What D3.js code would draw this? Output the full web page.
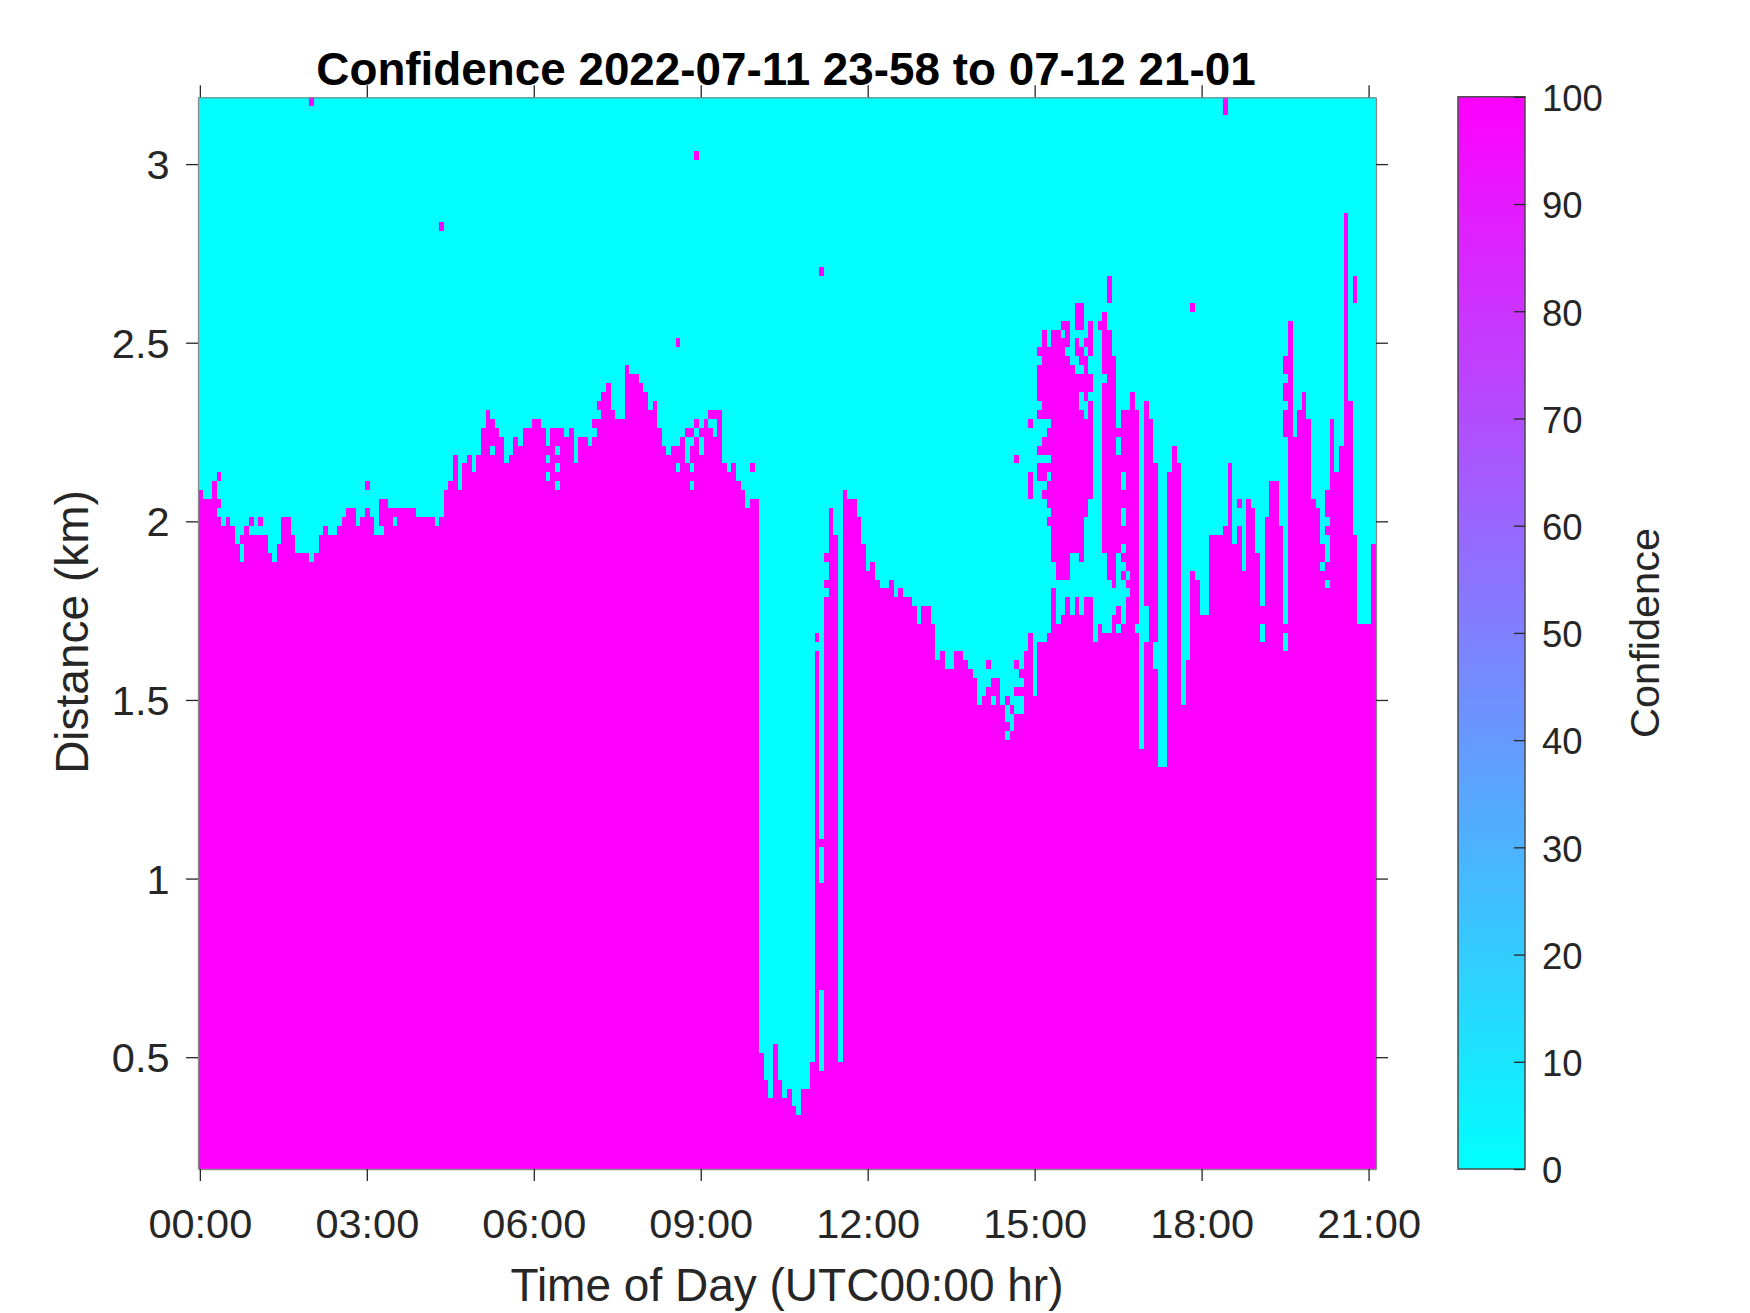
<!DOCTYPE html>
<html>
<head>
<meta charset="utf-8">
<script src="https://cdnjs.cloudflare.com/ajax/libs/d3/7.8.5/d3.min.js"></script>
<style>
    html, body { margin: 0; padding: 0; background: #fff; }
    svg { display: block; }
    text { font-family: "Liberation Sans", Arial, sans-serif; fill: #262626; }
    .axis path, .axis line { stroke: #262626; stroke-width: 1.3; }
</style>
</head>
<body>
<svg id="chart" width="1750" height="1313"></svg>
<script>
// retrieval grid: one column every 5 min from 23:58, one gate every 25 m from 0.187 km
var stepMin = 5, startMin = -2, gateKm = 0.025, firstKm = 0.187, nGates = 120;

// highest gate of the solid layer above ground, per time column
var layerTop = [
    76,75,75,77,73,72,73,72,70,68,
    72,71,71,71,71,69,68,70,73,73,
    71,69,69,69,68,69,71,72,71,71,
    72,73,74,74,72,73,74,73,71,75,
    75,74,74,74,74,74,74,73,73,73,
    73,72,73,76,77,80,76,79,80,78,
    80,83,85,84,83,82,79,80,82,81,
    83,83,84,84,83,81,83,83,83,82,
    83,79,82,82,81,82,84,87,88,85,
    84,84,90,89,89,88,87,85,86,83,
    81,80,81,81,82,79,81,82,83,84,
    83,82,85,79,78,79,77,76,74,75,
    75,13,10,8,14,10,8,9,7,6,
    9,9,12,58,11,64,74,71,12,76,
    75,75,73,70,67,68,66,65,65,66,
    64,65,64,64,63,61,63,63,61,57,
    58,56,56,58,58,57,56,55,52,53,
    54,55,55,52,48,49,51,51,58,60,
    53,59,59,60,65,61,62,64,62,64,
    62,64,64,59,61,60,60,62,60,61,
    64,87,60,47,59,84,56,45,45,78,
    81,79,52,57,67,66,62,62,71,71,
    71,72,79,70,72,67,75,74,69,59,
    73,77,77,72,58,95,82,85,87,84,
    75,74,67,65,84,78,81,107,86,71,
    61,61,61,70
];

// low confidence gaps inside the layer: [column, fromGate, toGate)
var layerHoles = [
    [39,71,72],[42,72,73],[63,80,81],[75,79,80],[75,77,78],
    [77,80,81],[77,78,79],[77,76,77],[103,78,79],[106,78,79],
    [106,76,77],[108,80,82],[171,52,53]
];

// high confidence patches above the layer: [column, fromGate, toGate)
var aloft = [
    [4,74,75],[4,77,78],[9,70,71],[11,72,73],[13,72,73],[24,119,120],[36,76,77],
    [52,105,106],[85,83,84],[86,85,86],[103,92,93],[105,82,83],[106,82,83],
    [107,83,84],[107,113,114],[110,84,85],[111,84,85],[119,78,79],
    [133,59,60],[134,20,32],[134,36,37],[134,100,101],[135,65,66],[135,68,69],
    [170,56,57],[174,49,50],[174,52,53],[175,51,52],
    [176,53,54],[176,56,57],[176,79,80],[177,53,54],[177,55,56],
    [179,83,84],[179,75,78],
    [181,91,92],[181,86,90],[181,84,85],[181,80,81],[181,77,79],
    [182,84,94],[182,80,82],[182,77,79],[182,75,76],
    [183,84,92],[183,80,83],[183,78,79],[183,74,77],[183,72,73],
    [184,68,94],[185,66,94],[186,94,95],[186,66,93],[187,92,95],[187,66,91],
    [188,69,90],[189,94,97],[189,91,93],[189,69,89],
    [190,94,97],[190,90,92],[190,87,89],[190,68,85],
    [191,92,93],[191,86,91],[191,73,84],[192,91,95],[192,87,89],[192,75,86],
    [194,94,95],[195,89,96],[195,69,88],[196,97,100],[196,66,94],[197,65,91],
    [198,82,83],[198,69,80],[198,61,63],
    [199,78,85],[199,74,76],[199,70,72],[199,68,69],[199,66,67],
    [200,67,85],[200,65,66],[202,61,85],[204,63,86],[206,59,79],
    [214,96,97],[221,118,120],[224,74,75],[229,61,63],
    [234,60,61],[234,82,85],[234,86,88],[234,89,91],
    [242,68,70],[243,73,76],[243,71,72],[243,66,68],[249,97,100]
];

var timeTicks = [0, 180, 360, 540, 720, 900, 1080, 1260];
var distTicks = [0.5, 1, 1.5, 2, 2.5, 3];
var confTicks = [0, 10, 20, 30, 40, 50, 60, 70, 80, 90, 100];

var svg = d3.select('#chart');
var box = {left: 198, right: 1376, top: 97.3, bottom: 1169};
var bar = {left: 1458, right: 1525};

var x = d3.scaleLinear()
    .domain([startMin, startMin + layerTop.length * stepMin])
    .range([box.left, box.right]);
var y = d3.scaleLinear()
    .domain([firstKm, firstKm + nGates * gateKm])
    .range([box.bottom, box.top]);
var conf = d3.scaleLinear()
    .domain([0, 100])
    .range([box.bottom, box.top - 0.5]);
var color = d3.scaleLinear()
    .domain([0, 100])
    .range(['#00ffff', '#ff00ff']);

// fill the grid column by column, then merge equal neighbours into vertical runs
var runs = [];
layerTop.forEach(function(top, c){
    var col = d3.range(nGates).map(function(g){ return g < top ? 100 : 0; });
    layerHoles.filter(function(h){ return h[0] === c; }).forEach(function(h){
        for(var g = h[1]; g < h[2]; g++) col[g] = 0;
    });
    aloft.filter(function(a){ return a[0] === c; }).forEach(function(a){
        for(var g = a[1]; g < a[2]; g++) col[g] = 100;
    });
    var from = 0;
    for(var g = 1; g <= nGates; g++){
        if(g === nGates || col[g] !== col[from]){
            runs.push({col: c, from: from, to: g, value: col[from]});
            from = g;
        }
    }
});

svg.append('g').selectAll('rect')
    .data(runs)
    .enter()
    .append('rect')
    .attr('x', function(d){ return x(startMin + d.col * stepMin); })
    .attr('width', function(d){ return x(startMin + (d.col + 1) * stepMin) - x(startMin + d.col * stepMin); })
    .attr('y', function(d){ return y(firstKm + d.to * gateKm); })
    .attr('height', function(d){ return y(firstKm + d.from * gateKm) - y(firstKm + d.to * gateKm); })
    .attr('fill', function(d){ return color(d.value); })
    .attr('shape-rendering', 'crispEdges');

function hhmm(m){
    return d3.format('02d')(m / 60) + ':00';
}

function styleAxis(g, size){
    g.attr('class', 'axis');
    g.select('.domain').style('stroke', '#8a8a8a');
    g.selectAll('text').style('font-size', size + 'px').style('fill', '#262626');
}

svg.append('g')
    .attr('transform', 'translate(0,' + box.bottom + ')')
    .call(d3.axisBottom(x).tickValues(timeTicks).tickFormat(hhmm).tickSize(12).tickSizeOuter(0).tickPadding(28))
    .call(styleAxis, 41.5);
svg.append('g')
    .attr('transform', 'translate(0,' + box.top + ')')
    .call(d3.axisTop(x).tickValues(timeTicks).tickFormat('').tickSize(12).tickSizeOuter(0))
    .call(styleAxis, 41);
svg.append('g')
    .attr('transform', 'translate(' + box.left + ',0)')
    .call(d3.axisLeft(y).tickValues(distTicks).tickFormat(d3.format('')).tickSize(12).tickSizeOuter(0).tickPadding(16.5))
    .call(styleAxis, 41.5)
    .call(function(g){ g.selectAll('text').attr('dy', '0.35em'); });
svg.append('g')
    .attr('transform', 'translate(' + box.right + ',0)')
    .call(d3.axisRight(y).tickValues(distTicks).tickFormat('').tickSize(12).tickSizeOuter(0))
    .call(styleAxis, 41);

// colorbar
var ramp = svg.append('defs').append('linearGradient')
    .attr('id', 'ramp')
    .attr('x1', 0).attr('y1', 1)
    .attr('x2', 0).attr('y2', 0);
ramp.selectAll('stop')
    .data(color.domain())
    .enter()
    .append('stop')
    .attr('offset', function(d){ return d + '%'; })
    .attr('stop-color', function(d){ return color(d); });

svg.append('rect')
    .attr('x', bar.left)
    .attr('y', conf(100))
    .attr('width', bar.right - bar.left)
    .attr('height', conf(0) - conf(100))
    .attr('fill', 'url(#ramp)')
    .attr('stroke', '#4a4a4a')
    .attr('stroke-width', 1.5);

svg.append('g')
    .attr('transform', 'translate(' + bar.right + ',0)')
    .call(d3.axisRight(conf).tickValues(confTicks).tickSize(-11).tickSizeOuter(0).tickPadding(17))
    .call(styleAxis, 36.5)
    .call(function(g){ g.select('.domain').remove(); })
    .call(function(g){ g.selectAll('text').attr('dy', '0.38em'); });

// titles
svg.append('text')
    .attr('x', 786)
    .attr('y', 85)
    .attr('text-anchor', 'middle')
    .style('font-size', '45.8px')
    .style('font-weight', 'bold')
    .style('fill', '#000')
    .text('Confidence 2022-07-11 23-58 to 07-12 21-01');

svg.append('text')
    .attr('x', 787)
    .attr('y', 1301)
    .attr('text-anchor', 'middle')
    .style('font-size', '46px')
    .text('Time of Day (UTC00:00 hr)');

svg.append('text')
    .attr('transform', 'translate(88,632) rotate(-90)')
    .attr('text-anchor', 'middle')
    .style('font-size', '46px')
    .text('Distance (km)');

svg.append('text')
    .attr('transform', 'translate(1659,633) rotate(-90)')
    .attr('text-anchor', 'middle')
    .style('font-size', '41.5px')
    .text('Confidence');
</script>
</body>
</html>
